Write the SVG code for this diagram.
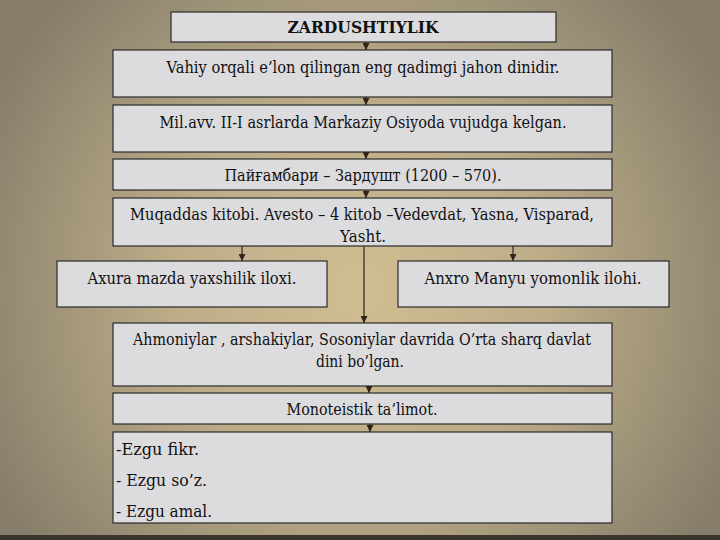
<svg xmlns="http://www.w3.org/2000/svg" width="720" height="540" viewBox="0 0 720 540">
<defs>
<radialGradient id="bg" cx="360" cy="290" r="420" gradientUnits="userSpaceOnUse">
<stop offset="0" stop-color="#d0bd92"/>
<stop offset="0.45" stop-color="#bcac88"/>
<stop offset="1" stop-color="#857d6a"/>
</radialGradient>
<marker id="ah" viewBox="0 0 8 8" refX="8" refY="4" markerWidth="7" markerHeight="7" markerUnits="userSpaceOnUse" orient="auto">
<path d="M0,0 L8,4 L0,8 z" fill="#2e2418"/>
</marker>
<style>
.box{fill:#dcdbde;stroke:#2b2b2b;stroke-width:1.2}
.t{text-anchor:middle}
.c{stroke:#2e2418;stroke-width:1.2;fill:none;marker-end:url(#ah)}
</style>
</defs>
<rect x="0" y="0" width="720" height="540" fill="url(#bg)"/>
<rect x="0" y="535" width="720" height="5" fill="#3a352c"/>
<g id="connectors">
<line class="c" x1="366" y1="42" x2="366" y2="50"/>
<line class="c" x1="366" y1="97" x2="366" y2="105"/>
<line class="c" x1="366" y1="152" x2="366" y2="159"/>
<line class="c" x1="366" y1="190" x2="366" y2="198"/>
<line class="c" x1="242" y1="246" x2="242" y2="261"/>
<line class="c" x1="513" y1="246" x2="513" y2="261"/>
<line class="c" x1="364" y1="246" x2="364" y2="323"/>
<line class="c" x1="369" y1="386" x2="369" y2="393"/>
<line class="c" x1="370" y1="424" x2="370" y2="432"/>
</g>
<g id="nodes" font-family="'Liberation Serif', 'DejaVu Serif', serif" font-size="16.5" fill="#111">
<g id="n1"><rect class="box" x="171" y="12" width="385" height="30"/><text class="t" font-family="'DejaVu Serif', serif" font-weight="bold" x="363" y="33" fill="#111" textLength="151" lengthAdjust="spacingAndGlyphs">ZARDUSHTIYLIK</text></g>
<g id="n2"><rect class="box" x="113" y="50" width="499" height="47"/><text class="t" font-family="'DejaVu Serif', serif" x="363" y="73" fill="#111" textLength="393" lengthAdjust="spacingAndGlyphs">Vahiy orqali e’lon qilingan eng qadimgi jahon dinidir.</text></g>
<g id="n3"><rect class="box" x="113" y="105" width="499" height="47"/><text class="t" font-family="'DejaVu Serif', serif" x="363" y="128" fill="#111" textLength="407" lengthAdjust="spacingAndGlyphs">Mil.avv. II-I asrlarda Markaziy Osiyoda vujudga kelgan.</text></g>
<g id="n4"><rect class="box" x="113" y="159" width="499" height="31"/><text class="t" font-family="'DejaVu Serif', serif" x="363" y="181" fill="#111" textLength="277" lengthAdjust="spacingAndGlyphs">Пайғамбари – Зардушт (1200 – 570).</text></g>
<g id="n5"><rect class="box" x="113" y="198" width="499" height="48"/><text class="t" font-family="'DejaVu Serif', serif" x="362" y="220" fill="#111" textLength="464" lengthAdjust="spacingAndGlyphs">Muqaddas kitobi. Avesto – 4 kitob –Vedevdat, Yasna, Visparad,</text><text class="t" font-family="'DejaVu Serif', serif" x="363" y="242" fill="#111" textLength="46" lengthAdjust="spacingAndGlyphs">Yasht.</text></g>
<g id="n6"><rect class="box" x="57" y="261" width="270" height="46"/><text class="t" font-family="'DejaVu Serif', serif" x="192" y="284" fill="#111" textLength="209" lengthAdjust="spacingAndGlyphs">Axura mazda yaxshilik iloxi.</text></g>
<g id="n7"><rect class="box" x="398" y="261" width="271" height="46"/><text class="t" font-family="'DejaVu Serif', serif" x="533" y="284" fill="#111" textLength="217" lengthAdjust="spacingAndGlyphs">Anxro Manyu yomonlik ilohi.</text></g>
<g id="n8"><rect class="box" x="113" y="323" width="499" height="63"/><text class="t" font-family="'DejaVu Serif', serif" x="362" y="345" fill="#111" textLength="458" lengthAdjust="spacingAndGlyphs">Ahmoniylar , arshakiylar, Sosoniylar davrida O’rta sharq davlat</text><text class="t" font-family="'DejaVu Serif', serif" x="360" y="367" fill="#111" textLength="88" lengthAdjust="spacingAndGlyphs">dini bo’lgan.</text></g>
<g id="n9"><rect class="box" x="113" y="393" width="499" height="31"/><text class="t" font-family="'DejaVu Serif', serif" x="362" y="415" fill="#111" textLength="151" lengthAdjust="spacingAndGlyphs">Monoteistik ta’limot.</text></g>
<g id="n10" font-family="'DejaVu Serif', serif"><rect class="box" x="113" y="432" width="499" height="91"/><text x="116" y="455" fill="#111" textLength="83" lengthAdjust="spacingAndGlyphs">-Ezgu fikr.</text><text x="116" y="486" fill="#111" textLength="91" lengthAdjust="spacingAndGlyphs">- Ezgu so’z.</text><text x="116" y="517" fill="#111" textLength="96" lengthAdjust="spacingAndGlyphs">- Ezgu amal.</text></g>
</g>
</svg>
